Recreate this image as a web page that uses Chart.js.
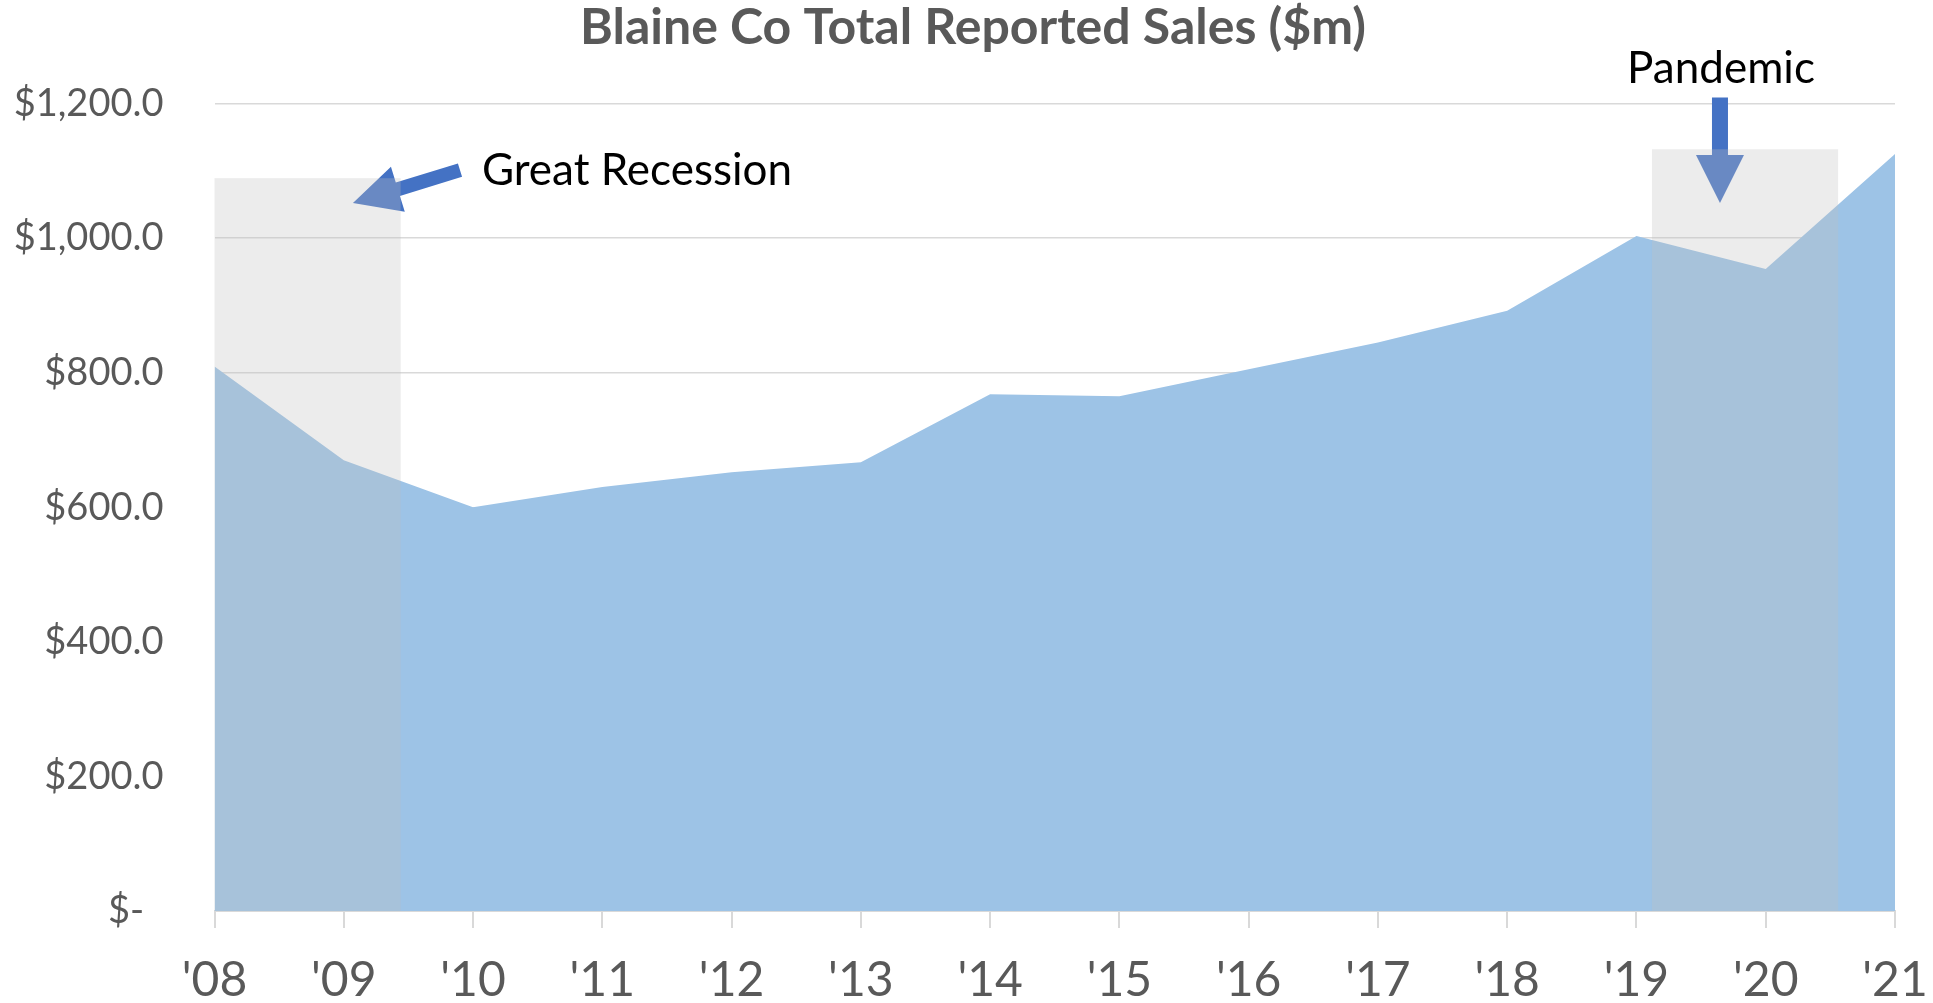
<!DOCTYPE html>
<html>
<head>
<meta charset="utf-8">
<script src="https://cdn.jsdelivr.net/npm/chart.js@4.4.1/dist/chart.umd.min.js"></script>
<style>
  html, body { margin: 0; padding: 0; background: #fff; }
  #wrap { width: 1933px; height: 1003px; position: relative; }
</style>
</head>
<body>
<div id="wrap"><canvas id="salesChart"></canvas></div>
<script>
// data ($m)
var years = ["'08", "'09", "'10", "'11", "'12", "'13", "'14", "'15", "'16", "'17", "'18", "'19", "'20", "'21"];
var sales = [809, 670, 600, 630, 652, 667, 768, 765, 805, 845, 892, 1003, 954, 1125];
var yTicks = [0, 200, 400, 600, 800, 1000, 1200];

var TITLE = 'Blaine Co Total Reported Sales ($m)';
var FONT = "Lato, 'Open Sans', sans-serif";
var TEXT_GREY = '#595959';
var ARROW_BLUE = '#4472c4';

// annotations, in data units (x = category index, y = $m)
var shades = [
    { x0: 0, x1: 1.44, top: 1089 },
    { x0: 11.12, x1: 12.56, top: 1132 }
];
var arrows = [
    { from: [1.899, 1101], to: [1.071, 1052], shaft: 7, headLen: 47, headHalf: 23.5 },
    { from: [11.646, 1209], to: [11.646, 1052], shaft: 8, headLen: 48, headHalf: 24 }
];
var notes = [
    { text: 'Great Recession', x: 2.069, y: 1079, align: 'left' },
    { text: 'Pandemic', x: 11.654, y: 1230, align: 'center' }
];

function blockArrow(ctx, x0, y0, x1, y1, sw, hl, hw) {
    var dx = x1 - x0, dy = y1 - y0;
    var len = Math.sqrt(dx * dx + dy * dy);
    var ux = dx / len, uy = dy / len;
    var px = -uy, py = ux;
    var bx = x1 - ux * hl, by = y1 - uy * hl;
    ctx.beginPath();
    ctx.moveTo(x0 + px * sw, y0 + py * sw);
    ctx.lineTo(bx + px * sw, by + py * sw);
    ctx.lineTo(bx + px * hw, by + py * hw);
    ctx.lineTo(x1, y1);
    ctx.lineTo(bx - px * hw, by - py * hw);
    ctx.lineTo(bx - px * sw, by - py * sw);
    ctx.lineTo(x0 - px * sw, y0 - py * sw);
    ctx.closePath();
    ctx.fill();
}

var annotate = {
    id: 'annotate',
    afterDatasetsDraw: function(chart) {
        var ctx = chart.ctx, xs = chart.scales.x, ys = chart.scales.y;
        ctx.save();
        // arrows first, the grey boxes sit on top of them
        ctx.fillStyle = ARROW_BLUE;
        arrows.forEach(function(a) {
            blockArrow(ctx,
                xs.getPixelForValue(a.from[0]), ys.getPixelForValue(a.from[1]),
                xs.getPixelForValue(a.to[0]), ys.getPixelForValue(a.to[1]),
                a.shaft, a.headLen, a.headHalf);
        });
        ctx.fillStyle = 'rgba(191,191,191,0.3)';
        shades.forEach(function(s) {
            var l = xs.getPixelForValue(s.x0), r = xs.getPixelForValue(s.x1);
            var t = ys.getPixelForValue(s.top), b = ys.getPixelForValue(0);
            ctx.fillRect(l, t, r - l, b - t);
        });
        ctx.fillStyle = '#000';
        ctx.font = '44px ' + FONT;
        ctx.textBaseline = 'alphabetic';
        notes.forEach(function(n) {
            ctx.textAlign = n.align;
            ctx.fillText(n.text, xs.getPixelForValue(n.x), ys.getPixelForValue(n.y));
        });
        // title, centred a little right of the canvas middle like the original
        ctx.fillStyle = TEXT_GREY;
        ctx.font = 'bold 50px ' + FONT;
        ctx.textAlign = 'center';
        ctx.fillText(TITLE, 973, 44);
        ctx.restore();
    }
};

new Chart(document.getElementById('salesChart'), {
    type: 'line',
    data: {
        labels: years,
        datasets: [{
            label: 'Total Reported Sales',
            data: sales,
            fill: 'origin',
            backgroundColor: '#9dc3e6',
            borderColor: '#9dc3e6',
            borderWidth: 0,
            pointRadius: 0,
            tension: 0
        }]
    },
    options: {
        responsive: true,
        maintainAspectRatio: false,
        animation: false,
        layout: { padding: { left: 0, right: 38, top: 103.5, bottom: 0 } },
        plugins: {
            legend: { display: false },
            tooltip: { enabled: false },
            title: { display: false }
        },
        scales: {
            x: {
                offset: false,
                grid: {
                    drawOnChartArea: false,
                    drawTicks: true,
                    tickLength: 17,
                    color: '#d9d9d9',
                    lineWidth: 2
                },
                border: { display: true, color: '#d9d9d9', width: 2 },
                ticks: {
                    color: TEXT_GREY,
                    font: { family: FONT, size: 48 },
                    padding: 24,
                    maxRotation: 0,
                    autoSkip: false
                },
                afterFit: function(scale) {
                    scale.height = 92;
                    // let the end labels hang over, as in the original
                    scale.paddingLeft = 0;
                    scale.paddingRight = 0;
                }
            },
            y: {
                min: 0,
                max: 1200,
                afterBuildTicks: function(scale) {
                    scale.ticks = yTicks.map(function(v) { return { value: v }; });
                },
                grid: { color: '#d9d9d9', lineWidth: 1.5, drawTicks: false },
                border: { display: false },
                ticks: {
                    color: TEXT_GREY,
                    font: { family: FONT, size: 38 },
                    padding: 51,
                    callback: function(v) {
                        if (v === 0) return '$-  ';
                        return '$' + v.toLocaleString('en-US', { minimumFractionDigits: 1, maximumFractionDigits: 1 });
                    }
                },
                afterFit: function(scale) {
                    scale.width = 214.5;
                    scale.paddingTop = 0;
                }
            }
        }
    },
    plugins: [annotate]
});
</script>
</body>
</html>
